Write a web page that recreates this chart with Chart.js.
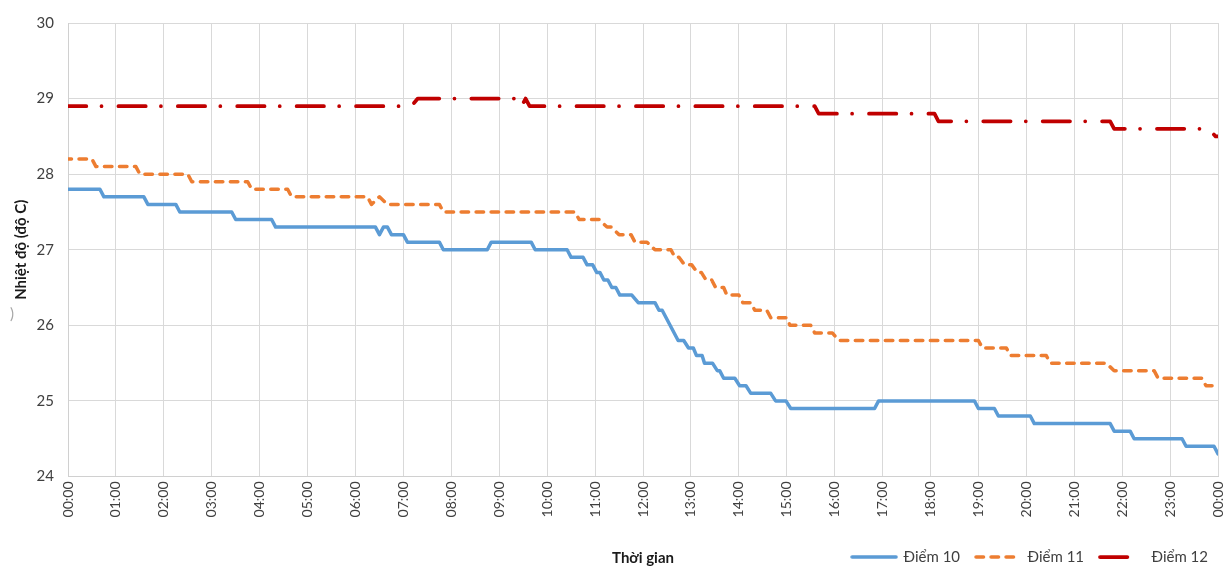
<!DOCTYPE html>
<html>
<head>
<meta charset="utf-8">
<script src="https://cdn.jsdelivr.net/npm/chart.js@4/dist/chart.umd.min.js"></script>
<style>
  html, body { margin: 0; padding: 0; background: #ffffff; }
  #wrap { width: 1224px; height: 566px; position: relative; }
</style>
</head>
<body>
<div id="wrap"><canvas id="chart" width="1224" height="566"></canvas></div>
<script>
// Series names
const seriesNames = ['Điểm 10', 'Điểm 11', 'Điểm 12'];

// Hourly axis labels (00:00 .. 23:00, then next midnight)
const hourLabels = ['00:00','01:00','02:00','03:00','04:00','05:00','06:00','07:00','08:00','09:00',
  '10:00','11:00','12:00','13:00','14:00','15:00','16:00','17:00','18:00','19:00','20:00',
  '21:00','22:00','23:00','00:00'];

// Điểm 10 readings (time of reading, °C)
const times10 = ['00:00','00:40','00:45','01:35','01:40','02:15','02:20','03:25','03:30','04:15',
  '04:20','06:25','06:30','06:35','06:40','06:45','07:00','07:05','07:45','07:50',
  '08:45','08:50','09:40','09:45','10:25','10:30','10:45','10:50','10:57','11:02',
  '11:06','11:11','11:16','11:21','11:26','11:31','11:46','11:54','12:15','12:20',
  '12:24','12:44','12:51','12:57','13:03','13:07','13:14','13:17','13:27','13:33',
  '13:36','13:41','13:55','14:01','14:09','14:15','14:40','14:46','14:59','15:05',
  '16:50','16:55','18:55','19:00','19:20','19:25','20:05','20:10','21:45','21:50',
  '22:10','22:15','23:15','23:20','23:55','24:00'];
const temps10 = [27.8,27.8,27.7,27.7,27.6,27.6,27.5,27.5,27.4,27.4,
  27.3,27.3,27.2,27.3,27.3,27.2,27.2,27.1,27.1,27.0,
  27.0,27.1,27.1,27.0,27.0,26.9,26.9,26.8,26.8,26.7,
  26.7,26.6,26.6,26.5,26.5,26.4,26.4,26.3,26.3,26.2,
  26.2,25.8,25.8,25.7,25.7,25.6,25.6,25.5,25.5,25.4,
  25.4,25.3,25.3,25.2,25.2,25.1,25.1,25.0,25.0,24.9,
  24.9,25.0,25.0,24.9,24.9,24.8,24.8,24.7,24.7,24.6,
  24.6,24.5,24.5,24.4,24.4,24.3];

// Điểm 11 readings
const times11 = ['00:00','00:30','00:35','01:25','01:30','02:30','02:35','03:45','03:50','04:35',
  '04:40','06:15','06:20','06:30','06:40','07:45','07:50','10:35','10:40','11:05',
  '11:15','11:20','11:30','11:45','11:50','12:05','12:15','12:35','12:40','12:45',
  '12:52','13:01','13:08','13:13','13:19','13:26','13:31','13:41','13:45','14:00',
  '14:05','14:15','14:20','14:35','14:40','15:00','15:04','15:30','15:35','15:57',
  '16:05','19:00','19:05','19:35','19:40','20:25','20:30','21:40','21:50','22:40',
  '22:45','23:40','23:45','24:00'];
const temps11 = [28.2,28.2,28.1,28.1,28.0,28.0,27.9,27.9,27.8,27.8,
  27.7,27.7,27.6,27.7,27.6,27.6,27.5,27.5,27.4,27.4,
  27.3,27.3,27.2,27.2,27.1,27.1,27.0,27.0,26.9,26.9,
  26.8,26.8,26.7,26.7,26.6,26.6,26.5,26.5,26.4,26.4,
  26.3,26.3,26.2,26.2,26.1,26.1,26.0,26.0,25.9,25.9,
  25.8,25.8,25.7,25.7,25.6,25.6,25.5,25.5,25.4,25.4,
  25.3,25.3,25.2,25.2];

// Điểm 12 readings
const times12 = ['00:00','07:10','07:18','09:20','09:25','09:28','09:33','09:38','15:35','15:40',
  '18:05','18:10','21:45','21:50','23:48','23:57','24:00'];
const temps12 = [28.9,28.9,29.0,29.0,28.9,28.9,29.0,28.9,28.9,28.8,
  28.8,28.7,28.7,28.6,28.6,28.5,28.5];

const FONT = 'Lato, "Open Sans", sans-serif';

// Line styles per series
const lineColors = ['#5B9BD5', '#ED7D31', '#C00000'];
const lineWidths = [3.5, 3.5, 3.75];
const lineDashes = [[], [7.5, 7.5], [27.3, 15.2, 0.01, 16.9]];
const dashOffsets = [0, 4, 9];
const sampleLengths = [44, 44, 36];

function toMinutes(t) {
  const [h, m] = t.split(':').map(Number);
  return h * 60 + m;
}
function points(times, temps) {
  return times.map((t, i) => ({ x: toMinutes(t), y: temps[i] }));
}

// Legend key: a short stroke in the series' own line style
function legendSample(i) {
  const c = document.createElement('canvas');
  c.width = 48; c.height = 10;
  const g = c.getContext('2d');
  g.strokeStyle = lineColors[i];
  g.lineWidth = lineWidths[i];
  g.lineCap = 'round';
  g.setLineDash(lineDashes[i]);
  g.beginPath();
  g.moveTo(2, 5);
  g.lineTo(2 + sampleLengths[i], 5);
  g.stroke();
  return c;
}
const samples = [0, 1, 2].map(legendSample);

// Small grey mark left of the axis title
const sideMark = {
  id: 'sideMark',
  afterDraw(chart) {
    const ctx = chart.ctx;
    ctx.save();
    ctx.fillStyle = '#a6a6a6';
    ctx.font = '15px ' + FONT;
    ctx.textAlign = 'center';
    ctx.textBaseline = 'middle';
    ctx.fillText(')', 12, 314);
    ctx.restore();
  }
};

function dataset(i, times, temps) {
  return {
    label: seriesNames[i],
    data: points(times, temps),
    borderColor: lineColors[i],
    backgroundColor: lineColors[i],
    borderWidth: lineWidths[i],
    borderDash: lineDashes[i],
    borderDashOffset: dashOffsets[i],
    borderJoinStyle: 'round',
    borderCapStyle: 'round',
    pointRadius: 0,
    tension: 0
  };
}

new Chart(document.getElementById('chart'), {
  type: 'line',
  data: {
    datasets: [
      dataset(0, times10, temps10),
      dataset(1, times11, temps11),
      dataset(2, times12, temps12)
    ]
  },
  options: {
    responsive: false,
    devicePixelRatio: 1,
    animation: false,
    layout: { padding: { top: 20, right: 0, bottom: -8.5, left: 0 } },
    plugins: {
      tooltip: { enabled: false },
      legend: {
        position: 'bottom',
        align: 'end',
        labels: {
          usePointStyle: true,
          pointStyleWidth: 44,
          padding: 16,
          color: '#404040',
          font: { family: FONT, size: 15 },
          generateLabels(chart) {
            const items = Chart.defaults.plugins.legend.labels.generateLabels(chart);
            items.forEach((it, i) => { it.pointStyle = samples[i]; });
            return items;
          }
        }
      }
    },
    scales: {
      x: {
        type: 'linear',
        min: 0,
        max: 1440,
        afterFit(s) { s.height = 57; s.paddingRight = 6; s.paddingLeft = 0; },
        grid: { color: '#d9d9d9', lineWidth: 1, drawTicks: false },
        border: { color: '#d0d0d0', width: 1 },
        ticks: {
          stepSize: 60,
          autoSkip: false,
          minRotation: 90,
          maxRotation: 90,
          padding: 5,
          color: '#404040',
          font: { family: FONT, size: 14 },
          callback: v => hourLabels[Math.round(v / 60)]
        },
        title: {
          display: true,
          text: 'Thời gian',
          color: '#1a1a1a',
          font: { family: FONT, size: 15, weight: 'bold' },
          padding: { top: 0, bottom: -33.5 }
        }
      },
      y: {
        min: 24,
        max: 30,
        afterFit(s) { s.width = 68; },
        grid: { color: '#d9d9d9', lineWidth: 1, drawTicks: false },
        border: { color: '#d0d0d0', width: 1 },
        ticks: {
          stepSize: 1,
          padding: 14,
          color: '#404040',
          font: { family: FONT, size: 15 }
        },
        title: {
          display: true,
          text: 'Nhiệt độ (độ C)',
          color: '#1a1a1a',
          font: { family: FONT, size: 15, weight: 'bold' },
          padding: { top: 12, bottom: 0 }
        }
      }
    }
  },
  plugins: [sideMark]
});
</script>
</body>
</html>
